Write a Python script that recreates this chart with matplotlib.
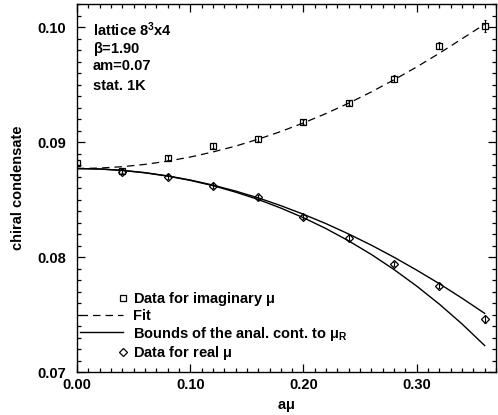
import numpy as np
import matplotlib as mpl
mpl.use('Agg')
import matplotlib.pyplot as plt
from matplotlib.legend_handler import HandlerLine2D
from matplotlib.ticker import MultipleLocator, FormatStrFormatter

plt.rcParams['font.family'] = ['Liberation Sans', 'DejaVu Sans']
plt.rcParams['font.weight'] = 'bold'
plt.rcParams['mathtext.fontset'] = 'custom'
plt.rcParams['mathtext.rm'] = 'Liberation Sans'
plt.rcParams['mathtext.it'] = 'Liberation Sans'

# data points, imaginary mu (squares)
mu_imag = [0.00, 0.04, 0.08, 0.12, 0.16, 0.20, 0.24, 0.28, 0.32, 0.36]
pbp_imag = [0.0882, 0.0875, 0.0886, 0.0897, 0.0903, 0.09175, 0.0934, 0.0955, 0.0984, 0.1001]
err_imag = [0.0002, 0.0002, 0.0002, 0.0002, 0.0002, 0.0002, 0.0002, 0.0003, 0.0003, 0.0005]

# data points, real mu (diamonds)
mu_real = [0.04, 0.08, 0.12, 0.16, 0.20, 0.24, 0.28, 0.32, 0.36]
pbp_real = [0.0874, 0.0870, 0.0862, 0.0852, 0.0835, 0.0817, 0.0794, 0.0775, 0.0746]
err_real = [0.0002, 0.0002, 0.0002, 0.0002, 0.0002, 0.0002, 0.0002, 0.0002, 0.0003]

# curves every 0.02
mu_curve = [0.00, 0.02, 0.04, 0.06, 0.08, 0.10, 0.12, 0.14, 0.16, 0.18,
            0.20, 0.22, 0.24, 0.26, 0.28, 0.30, 0.32, 0.34, 0.36]
fit_curve = [0.08770, 0.08774, 0.08786, 0.08806, 0.08834, 0.08870, 0.08914, 0.08965, 0.09025, 0.09092,
             0.09167, 0.09249, 0.09339, 0.09437, 0.09542, 0.09654, 0.09773, 0.09899, 0.10025]
upper_curve = [0.08770, 0.08766, 0.08754, 0.08734, 0.08706, 0.08670, 0.08626, 0.08574, 0.08515, 0.08447,
               0.08372, 0.08290, 0.08200, 0.08103, 0.07998, 0.07886, 0.07768, 0.07642, 0.07510]
lower_curve = [0.08770, 0.08766, 0.08754, 0.08733, 0.08704, 0.08667, 0.08621, 0.08565, 0.08501, 0.08426,
               0.08342, 0.08247, 0.08140, 0.08022, 0.07891, 0.07747, 0.07590, 0.07418, 0.07230]

info_lines = ['lattice 8$^3$x4', r'$\mathrm{\beta}$=1.90', 'am=0.07', 'stat. 1K']

FS = 10.5


# legend marker sits at the right end of the handle, like the original
class RightMarker(HandlerLine2D):
    def get_xdata(self, legend, xdescent, ydescent, width, height, fontsize):
        x = np.array([-xdescent + width + 0.05 * fontsize])
        return x, x


fig = plt.figure(figsize=(4.98, 4.15), dpi=100)
ax = fig.add_axes([0.1546, 0.1036, 0.8414, 0.8864])

ax.errorbar(mu_imag, pbp_imag, yerr=err_imag, fmt='none', ecolor='black', elinewidth=0.8, capsize=1, capthick=0.8)
ax.errorbar(mu_real, pbp_real, yerr=err_real, fmt='none', ecolor='black', elinewidth=0.8, capsize=1, capthick=0.8)

h_sq, = ax.plot(mu_imag, pbp_imag, ls='none', marker='s', ms=4.6, mfc='none', mec='black', mew=0.9,
                label=r'Data for imaginary $\mathrm{\mu}$')
h_fit, = ax.plot(mu_curve, fit_curve, color='black', lw=0.9, ls=(0, (6, 4)), label='Fit')
h_b, = ax.plot(mu_curve, upper_curve, color='black', lw=1.0,
               label=r'Bounds of the anal. cont. to $\mathrm{\mu_R}$')
ax.plot(mu_curve, lower_curve, color='black', lw=1.0)
h_di, = ax.plot(mu_real, pbp_real, ls='none', marker='D', ms=4.4, mfc='none', mec='black', mew=0.9,
                label=r'Data for real $\mathrm{\mu}$')

ax.set_xlim(0, 0.37)
ax.set_ylim(0.07, 0.102)

ax.xaxis.set_major_locator(MultipleLocator(0.1))
ax.xaxis.set_minor_locator(MultipleLocator(0.01))
ax.yaxis.set_major_locator(MultipleLocator(0.01))
ax.yaxis.set_minor_locator(MultipleLocator(0.001))
ax.xaxis.set_major_formatter(FormatStrFormatter('%.2f'))
ax.yaxis.set_major_formatter(FormatStrFormatter('%.2f'))
ax.tick_params(which='both', direction='in', top=True, right=True, labelsize=FS, width=0.9)
ax.tick_params(which='major', length=6)
ax.tick_params(which='minor', length=3)
ax.tick_params(axis='x', which='major', pad=4)
ax.tick_params(axis='y', which='major', pad=8)
for lab in ax.get_xticklabels() + ax.get_yticklabels():
    lab.set_fontweight('bold')
for s in ax.spines.values():
    s.set_linewidth(1.0)

ax.set_xlabel(r'a$\mathrm{\mu}$', fontsize=FS, fontweight='bold', labelpad=5)
ax.set_ylabel('chiral condensate', fontsize=FS, fontweight='bold', labelpad=9)

for i, t in enumerate(info_lines):
    ax.text(0.038, 0.957 - i * 0.0535, t, transform=ax.transAxes, fontsize=FS,
            fontweight='bold', va='top', ha='left')

ax.legend(handles=[h_sq, h_fit, h_b, h_di], loc='lower left', bbox_to_anchor=(0.008, 0.028),
          frameon=False, handlelength=2.9, handletextpad=0.7,
          labelspacing=0.08, borderpad=0, borderaxespad=0,
          handler_map={h_sq: RightMarker(numpoints=1), h_di: RightMarker(numpoints=1)},
          prop={'weight': 'bold', 'size': FS})

fig.savefig('out.png', dpi=100)
